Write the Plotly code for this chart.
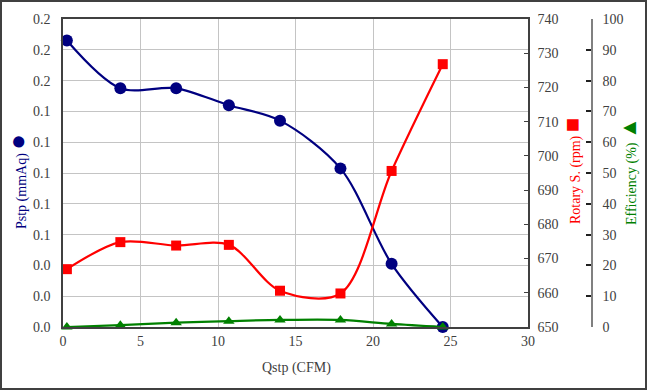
import plotly.graph_objects as go

# Data
qstp = [0.25, 3.7, 7.3, 10.7, 14.0, 17.9, 21.2, 24.5]          # CFM
pstp = [0.186, 0.155, 0.155, 0.144, 0.134, 0.103, 0.041, 0.0]   # mmAq
rpm = [666.9, 674.8, 673.8, 674.0, 660.6, 659.8, 695.6, 726.8]   # rpm
eff = [0.0, 0.6, 1.4, 1.9, 2.3, 2.3, 1.0, 0.0]                   # %

x_ticks = [0, 5, 10, 15, 20, 25, 30]
p_tickvals = [0, 0.02, 0.04, 0.06, 0.08, 0.10, 0.12, 0.14, 0.16, 0.18, 0.20]
p_ticktext = ["0.0", "0.0", "0.0", "0.1", "0.1", "0.1", "0.1", "0.1", "0.2", "0.2", "0.2"]
rpm_ticks = [650, 660, 670, 680, 690, 700, 710, 720, 730, 740]
eff_ticks = [0, 10, 20, 30, 40, 50, 60, 70, 80, 90, 100]

BLUE = "#000080"
RED = "#FF0000"
GREEN = "#008000"
TXT = "#404040"
FONT = "Liberation Serif"

W, H = 647, 390
ML, MR, MT, MB = 63, 20, 19, 63
PW = W - ML - MR
PH = H - MT - MB
PLOT_RIGHT = 528
EFF_X = 592


def px(xp):
    return (xp - ML) / PW


def py(yp):
    return (H - MB - yp) / PH


fig = go.Figure()

fig.add_trace(go.Scatter(
    x=qstp, y=pstp, mode="lines+markers", name="Pstp",
    line=dict(color=BLUE, width=2.2, shape="spline", smoothing=0.9),
    marker=dict(color=BLUE, size=12, symbol="circle"),
    yaxis="y", cliponaxis=False))

fig.add_trace(go.Scatter(
    x=qstp, y=rpm, mode="lines+markers", name="Rotary S.",
    line=dict(color=RED, width=2.2, shape="spline", smoothing=0.9),
    marker=dict(color=RED, size=10, symbol="square"),
    yaxis="y2", cliponaxis=False))

fig.add_trace(go.Scatter(
    x=qstp, y=eff, mode="lines+markers", name="Efficiency",
    line=dict(color=GREEN, width=2.2, shape="spline", smoothing=0.9),
    marker=dict(color=GREEN, size=10, symbol="triangle-up"),
    yaxis="y3", cliponaxis=False))

dom_end = px(PLOT_RIGHT)

fig.update_layout(
    width=W, height=H,
    margin=dict(l=ML, r=MR, t=MT, b=MB),
    paper_bgcolor="white", plot_bgcolor="white",
    showlegend=False,
    font=dict(family=FONT, size=14, color=TXT),
    xaxis=dict(
        domain=[0, dom_end], range=[0, 30], tickvals=x_ticks,
        showgrid=True, gridcolor="#c4c4c4", gridwidth=1,
        showline=True, linecolor=TXT, linewidth=1.5, mirror=True,
        ticks="", zeroline=False,
        tickfont=dict(family=FONT, size=14, color=TXT)),
    yaxis=dict(
        range=[0, 0.2], tickvals=p_tickvals, ticktext=p_ticktext,
        showgrid=True, gridcolor="#c4c4c4", gridwidth=1,
        showline=True, linecolor=TXT, linewidth=1.5,
        ticks="", zeroline=False, ticklabelstandoff=8,
        tickfont=dict(family=FONT, size=14, color=TXT)),
    yaxis2=dict(
        range=[650, 740], tickvals=rpm_ticks, overlaying="y", side="right",
        anchor="x", showgrid=False, showline=True, linecolor=TXT, linewidth=1.5,
        ticks="inside", ticklen=4, tickcolor=TXT, zeroline=False,
        ticklabelstandoff=5,
        tickfont=dict(family=FONT, size=14, color=TXT)),
    yaxis3=dict(
        range=[0, 100], tickvals=eff_ticks, overlaying="y", side="right",
        anchor="free", position=px(EFF_X), showgrid=False,
        showline=True, linecolor="#808080", linewidth=1.5,
        ticks="inside", ticklen=5, tickcolor="#202020", tickwidth=1.5,
        zeroline=False, ticklabelstandoff=7,
        tickfont=dict(family=FONT, size=14, color=TXT)),
)

ann = [
    dict(text="Qstp (CFM)", x=px(296), y=py(368), font=dict(size=14, color=TXT)),
    dict(text="Pstp (mmAq) <span style='font-size:26px'>●</span>", x=px(17), y=py(181),
         textangle=-90, font=dict(size=14, color=BLUE)),
    dict(text="Rotary S. (rpm) <span style='font-size:24px'>■</span>", x=px(572), y=py(171),
         textangle=-90, font=dict(size=14, color=RED)),
    dict(text="Efficiency (%) <span style='font-size:22px'>▲</span>", x=px(628), y=py(171),
         textangle=-90, font=dict(size=14, color=GREEN)),
]
for a in ann:
    fig.add_annotation(xref="paper", yref="paper", showarrow=False,
                       xanchor="center", yanchor="middle",
                       font_family=FONT, **{k: v for k, v in a.items()})

fig.add_shape(type="rect", xref="paper", yref="paper",
              x0=px(1), x1=px(646), y0=py(389), y1=py(1),
              line=dict(color="#404040", width=2), fillcolor="rgba(0,0,0,0)",
              layer="below")

fig.write_html("out.html", config={"displayModeBar": False})

# remove the browser's default page margin so the figure sits at (0, 0)
with open("out.html", "r", encoding="utf-8") as f:
    html = f.read()
html = html.replace("<body>", '<body style="margin:0;padding:0;overflow:hidden">', 1)
html = html.replace("<head>", '<head><style>html,body{margin:0;padding:0;}</style>', 1)
with open("out.html", "w", encoding="utf-8") as f:
    f.write(html)
